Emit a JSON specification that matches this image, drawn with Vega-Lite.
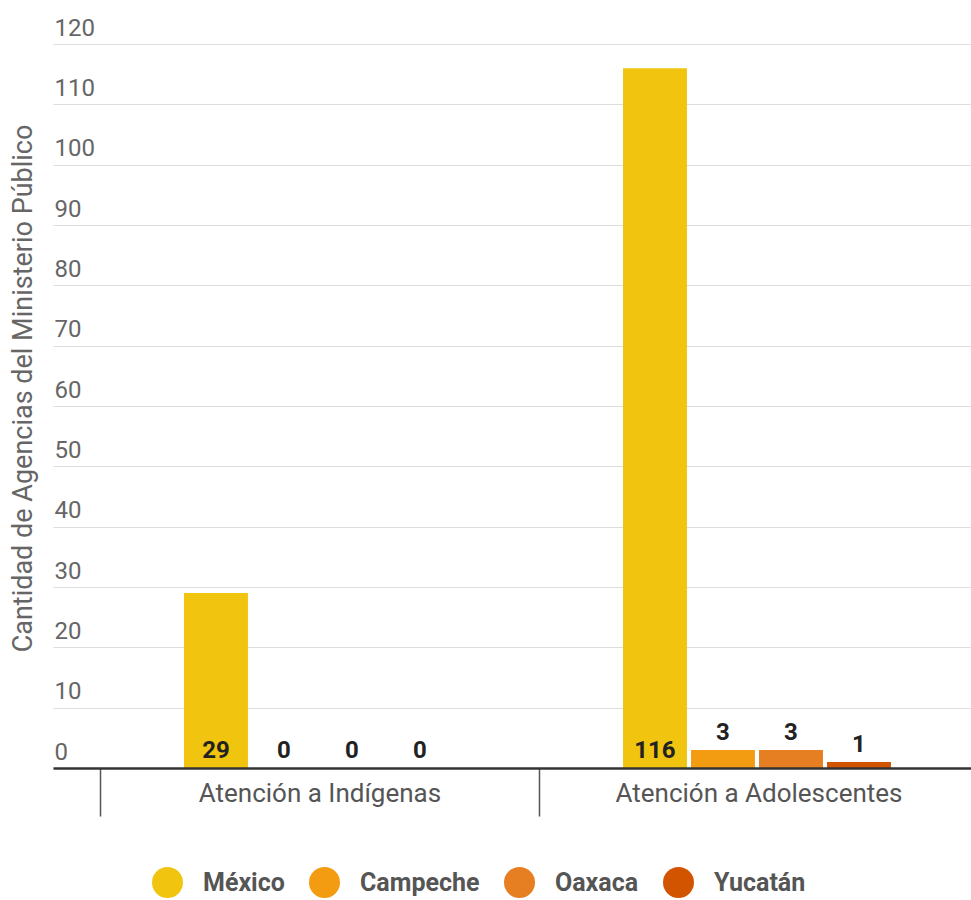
{
  "$schema": "https://vega.github.io/schema/vega-lite/v6.json",
  "width": 918,
  "height": 724,
  "autosize": {"type": "none"},
  "padding": {"left": 53, "top": 44, "right": 0, "bottom": 132},
  "background": "white",
  "data": {
    "values": [
      {"tipo": "Atención a Indígenas", "estado": "México", "valor": 29},
      {"tipo": "Atención a Indígenas", "estado": "Campeche", "valor": 0},
      {"tipo": "Atención a Indígenas", "estado": "Oaxaca", "valor": 0},
      {"tipo": "Atención a Indígenas", "estado": "Yucatán", "valor": 0},
      {"tipo": "Atención a Adolescentes", "estado": "México", "valor": 116},
      {"tipo": "Atención a Adolescentes", "estado": "Campeche", "valor": 3},
      {"tipo": "Atención a Adolescentes", "estado": "Oaxaca", "valor": 3},
      {"tipo": "Atención a Adolescentes", "estado": "Yucatán", "valor": 1}
    ]
  },
  "encoding": {
    "x": {
      "field": "tipo",
      "type": "nominal",
      "sort": ["Atención a Indígenas", "Atención a Adolescentes"],
      "scale": {"range": [0, 925], "paddingInner": 0, "paddingOuter": 0.0535, "align": 1},
      "axis": {
        "title": null,
        "labelAngle": 0,
        "labelLimit": 0,
        "domainColor": "#333333",
        "domainWidth": 2.5,
        "ticks": true,
        "tickBand": "extent",
        "tickColor": "#555555",
        "tickSize": 48,
        "tickWidth": 1.5,
        "labelFontSize": 26,
        "labelColor": "#555555",
        "labelPadding": -36,
        "grid": false,
        "zindex": 1
      }
    },
    "xOffset": {
      "field": "estado",
      "type": "nominal",
      "sort": ["México", "Campeche", "Oaxaca", "Yucatán"],
      "scale": {"range": [82, 354], "paddingInner": 0.06, "paddingOuter": 0.03}
    }
  },
  "layer": [
    {
      "mark": {"type": "bar"},
      "encoding": {
        "y": {
          "field": "valor",
          "type": "quantitative",
          "scale": {"domain": [0, 120], "nice": false},
          "axis": {
            "values": [0, 10, 20, 30, 40, 50, 60, 70, 80, 90, 100, 110, 120],
            "domain": false,
            "ticks": false,
            "grid": true,
            "gridColor": "#dddddd",
            "gridWidth": 1,
            "labelAlign": "left",
            "labelBaseline": "alphabetic",
            "labelPadding": -1,
            "labelOffset": -9,
            "labelFontSize": 24,
            "labelColor": "#666666",
            "title": "Cantidad de Agencias del Ministerio Público",
            "titleFontSize": 27,
            "titleFontWeight": "normal",
            "titleColor": "#666666",
            "titleAngle": -90,
            "titleX": -30,
            "titleY": 344,
            "titleAlign": "center",
            "titleBaseline": "middle"
          }
        },
        "color": {
          "field": "estado",
          "type": "nominal",
          "sort": ["México", "Campeche", "Oaxaca", "Yucatán"],
          "scale": {
            "domain": ["México", "Campeche", "Oaxaca", "Yucatán"],
            "range": ["#F1C40F", "#F39C12", "#E67E22", "#D35400"]
          },
          "legend": {
            "title": null,
            "orient": "none",
            "legendX": 99,
            "legendY": 823,
            "direction": "horizontal",
            "symbolType": "circle",
            "symbolSize": 961,
            "symbolStrokeWidth": 0,
            "labelFontSize": 25,
            "labelFontWeight": "bold",
            "labelColor": "#555555",
            "labelOffset": 20,
            "columnPadding": 24,
            "padding": 0
          }
        }
      }
    },
    {
      "transform": [{"filter": "datum.estado === 'México'"}],
      "mark": {"type": "text", "baseline": "alphabetic", "dy": -10, "fontSize": 24, "fontWeight": "bold", "color": "#222222"},
      "encoding": {
        "y": {"datum": 0, "type": "quantitative"},
        "text": {"field": "valor", "type": "quantitative"}
      }
    },
    {
      "transform": [{"filter": "datum.estado !== 'México'"}],
      "mark": {"type": "text", "baseline": "alphabetic", "dy": -10, "fontSize": 24, "fontWeight": "bold", "color": "#222222"},
      "encoding": {
        "y": {"field": "valor", "type": "quantitative"},
        "text": {"field": "valor", "type": "quantitative"}
      }
    }
  ],
  "config": {
    "font": "Roboto",
    "view": {"stroke": null}
  }
}
